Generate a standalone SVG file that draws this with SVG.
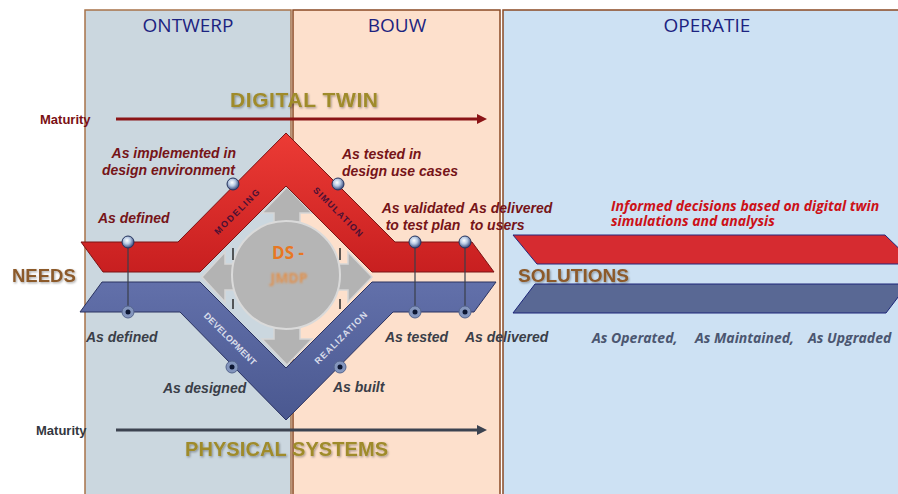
<svg xmlns="http://www.w3.org/2000/svg" width="898" height="494" viewBox="0 0 898 494">
<style>
.col{font-family:"Open Sans","Noto Sans",sans-serif;font-size:19px;fill:#1c2380;text-anchor:middle}
.mat{font-family:"Liberation Sans",Arial,sans-serif;font-weight:bold;font-size:13px}
.big{font-family:"Liberation Sans",Arial,sans-serif;font-weight:bold}
.lr{font-family:"Liberation Sans",Arial,sans-serif;font-weight:bold;font-style:italic;font-size:14px;fill:#761418}
.lb{font-family:"Liberation Sans",Arial,sans-serif;font-weight:bold;font-style:italic;font-size:14px;fill:#3a3e48}
.os{font-family:"Open Sans","Noto Sans",sans-serif;font-weight:bold;font-style:italic;font-size:14px}
.rot{font-family:"Liberation Sans",Arial,sans-serif;font-weight:bold;font-size:9px;text-anchor:middle;dominant-baseline:central}
.ball{fill:url(#gBall);stroke:#26355f;stroke-width:1}
.dot{fill:#8395bd;stroke:#55668f;stroke-width:1}
.dotc{fill:#0c1632}
.vl{stroke:#3a3f4a;stroke-width:1.2}
.gray{fill:#b3b3b3;stroke:#d6d6d6;stroke-width:1.5}
</style>
<defs>
<linearGradient id="gRed" x1="0" y1="0" x2="0" y2="1">
<stop offset="0" stop-color="#ec3b35"/><stop offset="1" stop-color="#c81f20"/>
</linearGradient>
<linearGradient id="gBlue" x1="0" y1="0" x2="0" y2="1">
<stop offset="0" stop-color="#6270aa"/><stop offset="1" stop-color="#4a5890"/>
</linearGradient>
<radialGradient id="gBall" cx="0.42" cy="0.38" r="0.62">
<stop offset="0" stop-color="#ffffff"/><stop offset="0.45" stop-color="#b9cbe4"/><stop offset="1" stop-color="#34467a"/>
</radialGradient>
<filter id="sh" x="-10%" y="-20%" width="130%" height="150%">
<feDropShadow dx="1" dy="1.2" stdDeviation="0.8" flood-color="#000" flood-opacity="0.35"/>
</filter>
<filter id="blur" x="-10%" y="-30%" width="120%" height="160%">
<feGaussianBlur stdDeviation="1.1"/>
</filter>
<marker id="arrR" viewBox="0 0 10 10" refX="2" refY="5" markerWidth="10" markerHeight="10" markerUnits="userSpaceOnUse" orient="auto">
<path d="M0,0 L10,5 L0,10 z" fill="#8b1416"/>
</marker>
<marker id="arrS" viewBox="0 0 10 10" refX="2" refY="5" markerWidth="10" markerHeight="10" markerUnits="userSpaceOnUse" orient="auto">
<path d="M0,0 L10,5 L0,10 z" fill="#3c4350"/>
</marker>
</defs>

<rect width="898" height="494" fill="#ffffff"/>

<g id="columns">
<rect x="85" y="10" width="206" height="490" fill="#cbd7df" stroke="#a8734a" stroke-width="1.5"/>
<rect x="293" y="10" width="207" height="490" fill="#fde0cc" stroke="#8a4a25" stroke-width="1.5"/>
<rect x="503" y="10" width="400" height="490" fill="#cde1f3" stroke="#8a4a25" stroke-width="1.5"/>
<text class="col" x="188" y="32">ONTWERP</text>
<text class="col" x="397" y="32">BOUW</text>
<text class="col" x="707" y="32">OPERATIE</text>
</g>

<g id="connectors">
<line x1="116" y1="119" x2="479" y2="119" stroke="#8b1416" stroke-width="3" marker-end="url(#arrR)"/>
<line x1="116" y1="430" x2="479" y2="430" stroke="#3c4350" stroke-width="3" marker-end="url(#arrS)"/>
</g>

<g id="maturity-top">
<text class="mat" x="40" y="124" fill="#7a1014">Maturity</text>
<text class="big" x="230" y="107" font-size="21" fill="#9f8b2c" textLength="148" filter="url(#sh)">DIGITAL TWIN</text>
</g>

<g id="ds-jmdp">
<polygon class="gray" points="274,222 274,213 262,213 287,187 312,213 300,213 300,222"/>
<polygon class="gray" points="274,328 274,339 262,339 287,365 312,339 300,339 300,328"/>
<polygon class="gray" points="236,264 225,264 225,252 202,277 225,302 225,290 236,290"/>
<polygon class="gray" points="336,264 348,264 348,252 372,277 348,302 348,290 336,290"/>
<circle cx="286" cy="275" r="54" fill="#b5b5b5" stroke="#dadada" stroke-width="2"/>
<g stroke="#2a2a2a" stroke-width="1.5">
<line x1="233" y1="248" x2="233" y2="260"/><line x1="233" y1="299" x2="233" y2="309"/>
<line x1="340" y1="248" x2="340" y2="260"/><line x1="340" y1="299" x2="340" y2="309"/>
</g>
<text x="288" y="259" text-anchor="middle" font-family="Open Sans, Noto Sans, sans-serif" font-weight="bold" font-size="17" fill="#e87722">DS -</text>
<text x="289" y="283" text-anchor="middle" font-family="Open Sans, Noto Sans, sans-serif" font-weight="bold" font-size="14" fill="#e98a3a" opacity="0.85" filter="url(#blur)">JMDP</text>
</g>

<g id="digital-chevron">
<polygon points="81,242 178,242 286,133 395,242 472,242 494,272 372,272 286,186 200,272 103,272" fill="url(#gRed)" stroke="#7a1515" stroke-width="1"/>
<text class="rot" transform="translate(237,212) rotate(-45)" fill="#4a1035" textLength="60">MODELING</text>
<text class="rot" transform="translate(338,212) rotate(45)" fill="#4a1035" textLength="66">SIMULATION</text>
</g>

<g id="physical-chevron">
<polygon points="102,282 200,282 286,368 372,282 496,282 474,312 393,312 286,420 180,312 80,312" fill="url(#gBlue)" stroke="#2a3260" stroke-width="1"/>
<text class="rot" transform="translate(230,339) rotate(45)" fill="#d8dcea" textLength="70">DEVELOPMENT</text>
<text class="rot" transform="translate(341,338) rotate(-45)" fill="#d8dcea" textLength="70">REALIZATION</text>
</g>

<g id="links">
<line class="vl" x1="128" y1="248" x2="128" y2="306"/>
<line class="vl" x1="415" y1="248" x2="415" y2="306"/>
<line class="vl" x1="465" y1="248" x2="465" y2="306"/>
</g>

<g id="red-nodes">
<circle class="ball" cx="128" cy="242" r="6"/>
<circle class="ball" cx="233" cy="184" r="6"/>
<circle class="ball" cx="338" cy="184" r="6"/>
<circle class="ball" cx="415" cy="242" r="6"/>
<circle class="ball" cx="465" cy="242" r="6"/>
</g>

<g id="blue-nodes">
<circle class="dot" cx="128" cy="312" r="6"/><circle class="dotc" cx="128" cy="312" r="2.5"/>
<circle class="dot" cx="232" cy="367" r="6"/><circle class="dotc" cx="232" cy="367" r="2.5"/>
<circle class="dot" cx="340" cy="367" r="6"/><circle class="dotc" cx="340" cy="367" r="2.5"/>
<circle class="dot" cx="415" cy="312" r="6"/><circle class="dotc" cx="415" cy="312" r="2.5"/>
<circle class="dot" cx="465" cy="312" r="6"/><circle class="dotc" cx="465" cy="312" r="2.5"/>
</g>

<g id="red-labels">
<text class="lr" x="236" y="158" text-anchor="end">As implemented in</text>
<text class="lr" x="235" y="175" text-anchor="end">design environment</text>
<text class="lr" x="98" y="223">As defined</text>
<text class="lr" x="342" y="159">As tested in</text>
<text class="lr" x="342" y="176">design use cases</text>
<text class="lr" x="423" y="213" text-anchor="middle">As validated</text>
<text class="lr" x="423" y="230" text-anchor="middle">to test plan</text>
<text class="lr" x="469" y="213">As delivered</text>
<text class="lr" x="470" y="230">to users</text>
</g>

<g id="blue-labels">
<text class="lb" x="86" y="342">As defined</text>
<text class="lb" x="163" y="393">As designed</text>
<text class="lb" x="333" y="392">As built</text>
<text class="lb" x="385" y="342">As tested</text>
<text class="lb" x="465" y="342">As delivered</text>
</g>

<g id="needs">
<text class="big" x="12" y="282" font-size="18.5" fill="#8c5a2c" filter="url(#sh)">NEEDS</text>
</g>

<g id="solutions">
<polygon points="513,235 885,235 915,264 537,264" fill="#d62b30" stroke="#26277a" stroke-width="1"/>
<polygon points="535,284 908,284 886,313 513,313" fill="#596894" stroke="#1c2578" stroke-width="1"/>
<text class="big" x="518" y="282" font-size="19" fill="#8c5a2c" filter="url(#sh)">SOLUTIONS</text>
<text class="os" x="611" y="211" fill="#cc1118">Informed decisions based on digital twin</text>
<text class="os" x="611" y="226" fill="#cc1118">simulations and analysis</text>
<text class="os" x="592" y="343" fill="#4b5670">As Operated,</text>
<text class="os" x="695" y="343" fill="#4b5670">As Maintained,</text>
<text class="os" x="808" y="343" fill="#4b5670">As Upgraded</text>
</g>

<g id="maturity-bottom">
<text class="mat" x="36" y="435" fill="#333740">Maturity</text>
<text class="big" x="185" y="456" font-size="20" fill="#9f8b2c" textLength="203" filter="url(#sh)">PHYSICAL SYSTEMS</text>
</g>
</svg>
